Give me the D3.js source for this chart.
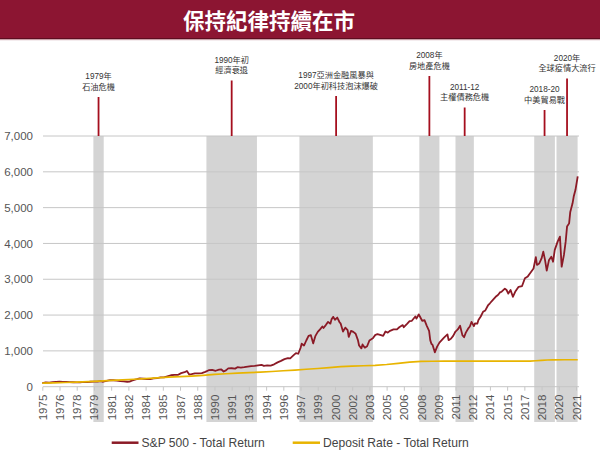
<!DOCTYPE html>
<html><head><meta charset="utf-8">
<script src="https://cdn.jsdelivr.net/npm/d3@7"></script>
<style>body{margin:0;background:#fff}svg{display:block}</style>
</head><body>
<svg id="c" width="600" height="453"></svg>
<script>
const title = "保持紀律持續在市";
const yTicks = [0,1000,2000,3000,4000,5000,6000,7000];
const xTickYears = [1975,1976.5,1978,1979.5,1981,1982.5,1984,1985.5,1987,1988.5,1990,1991.5,1993,1994.5,1996,1997.5,1999,2000.5,2002,2003.5,2005,2006.5,2008,2009.5,2011,2012.5,2014,2015.5,2017,2018.5,2020,2021.5];
const seriesNames = ["S&P 500 - Total Return","Deposit Rate - Total Return"];
// crisis bands [start, end]
const bands = [[1979.45,1980.35],[1989.3,1993.7],[1997.4,2003.8],[2007.85,2009.6],[2011.0,2012.6],[2017.86,2019.66],[2019.8,2021.64]];
const bandLabels = [["1979年","石油危機"],["1990年初","經濟衰退"],["1997亞洲金融風暴與","2000年初科技泡沫爆破"],["2008年","房地產危機"],["2011-12","主權債務危機"],["2018-20","中美貿易戰"],["2020年","全球疫情大流行"]];
// S&P 500 total return [year, value]
const sp500 = [[1975.0,100],[1975.3,118],[1975.6,112],[1975.9,125],[1976.2,135],[1976.5,138],[1976.8,136],[1977.1,132],[1977.4,128],[1977.7,124],[1978.0,118],[1978.3,122],[1978.6,135],[1978.9,125],[1979.2,138],[1979.5,142],[1979.8,140],[1980.1,155],[1980.3,138],[1980.6,165],[1980.9,185],[1981.2,180],[1981.5,172],[1981.8,155],[1982.1,148],[1982.4,138],[1982.6,140],[1982.8,168],[1983.0,190],[1983.3,215],[1983.5,230],[1983.8,222],[1984.1,215],[1984.4,210],[1984.7,230],[1985.0,240],[1985.3,258],[1985.6,262],[1985.9,290],[1986.2,320],[1986.5,330],[1986.8,328],[1987.1,380],[1987.4,405],[1987.6,440],[1987.8,340],[1988.0,350],[1988.3,372],[1988.6,370],[1988.9,380],[1989.2,415],[1989.5,460],[1989.8,468],[1990.1,445],[1990.4,475],[1990.6,480],[1990.8,425],[1991.0,455],[1991.2,510],[1991.5,515],[1991.8,505],[1992.0,545],[1992.3,535],[1992.6,545],[1992.9,560],[1993.2,575],[1993.5,580],[1993.8,595],[1994.1,612],[1994.3,580],[1994.6,595],[1994.9,590],[1995.2,625],[1995.5,680],[1995.8,720],[1996.1,770],[1996.4,800],[1996.6,790],[1996.9,880],[1997.1,940],[1997.3,920],[1997.5,1080],[1997.6,1200],[1997.8,1150],[1998.0,1290],[1998.2,1420],[1998.4,1440],[1998.6,1210],[1998.8,1420],[1999.0,1530],[1999.2,1600],[1999.4,1680],[1999.5,1640],[1999.7,1720],[1999.9,1810],[2000.1,1760],[2000.2,1880],[2000.35,1950],[2000.5,1870],[2000.7,1930],[2000.9,1800],[2001.0,1760],[2001.2,1540],[2001.4,1650],[2001.6,1580],[2001.7,1390],[2001.9,1560],[2002.1,1530],[2002.3,1480],[2002.5,1300],[2002.6,1150],[2002.8,1070],[2002.9,1180],[2003.1,1090],[2003.3,1130],[2003.5,1290],[2003.8,1350],[2004.0,1440],[2004.2,1470],[2004.5,1440],[2004.7,1420],[2004.9,1540],[2005.1,1510],[2005.3,1560],[2005.6,1600],[2005.9,1600],[2006.1,1660],[2006.4,1720],[2006.5,1660],[2006.8,1760],[2007.0,1830],[2007.2,1840],[2007.5,1960],[2007.6,1900],[2007.8,2020],[2007.9,1960],[2008.1,1840],[2008.3,1860],[2008.5,1700],[2008.7,1560],[2008.8,1300],[2008.9,1200],[2009.0,1170],[2009.2,960],[2009.4,1120],[2009.6,1230],[2009.8,1300],[2010.0,1370],[2010.3,1460],[2010.4,1300],[2010.6,1340],[2010.8,1420],[2011.0,1540],[2011.2,1600],[2011.4,1700],[2011.6,1440],[2011.75,1380],[2011.9,1510],[2012.1,1620],[2012.25,1680],[2012.4,1810],[2012.6,1690],[2012.7,1770],[2012.9,1760],[2013.0,1860],[2013.2,1960],[2013.4,2090],[2013.6,2130],[2013.85,2280],[2014.0,2330],[2014.3,2440],[2014.5,2510],[2014.7,2560],[2014.9,2640],[2015.0,2650],[2015.3,2740],[2015.45,2700],[2015.6,2600],[2015.8,2700],[2016.0,2510],[2016.2,2650],[2016.5,2790],[2016.8,2810],[2017.05,3030],[2017.3,3080],[2017.5,3170],[2017.8,3300],[2018.0,3620],[2018.1,3400],[2018.3,3440],[2018.5,3580],[2018.65,3770],[2018.8,3540],[2018.95,3240],[2019.15,3540],[2019.35,3630],[2019.5,3490],[2019.65,3820],[2019.9,4050],[2020.1,4190],[2020.25,3350],[2020.45,3680],[2020.6,4050],[2020.72,4470],[2020.9,4560],[2021.0,4880],[2021.2,5120],[2021.3,5310],[2021.45,5490],[2021.65,5870]];
// Deposit rate total return [year, value]
const deposit = [[1975,100],[1976,108],[1977,117],[1978,127],[1979,140],[1980,157],[1981,176],[1982,192],[1983,208],[1984,226],[1985,245],[1986,265],[1987,283],[1988,298],[1989,318],[1990,342],[1991,362],[1992,378],[1993,392],[1994,405],[1995,425],[1996,445],[1997,465],[1998,487],[1999,508],[2000,535],[2001,558],[2002,574],[2003,585],[2004,596],[2005,620],[2006,652],[2007,688],[2008,707],[2009,711],[2010,712],[2012,712],[2014,712],[2016,713],[2017.5,716],[2018,724],[2018.5,735],[2019,745],[2019.5,750],[2020.5,752],[2021.65,752]];

const colSP = "#8B1A26", colDep = "#E8B400", colBand = "#d4d4d4", colGrid = "#c6c6c6", colText = "#555";
const latin = "'Liberation Sans', Arial, 'Noto Sans CJK TC', sans-serif";
const svg = d3.select("#c");
const x = d3.scaleLinear().domain([1975, 2021.5]).range([42.3, 576]);
const y = d3.scaleLinear().domain([0, 7000]).range([386.7, 136]);

// title bar
svg.append("rect").attr("x",0).attr("y",0).attr("width",600).attr("height",39).attr("fill","#8C1532");
svg.append("rect").attr("x",0).attr("y",38).attr("width",600).attr("height",1).attr("fill","#5e0d20");
svg.append("rect").attr("x",0).attr("y",39).attr("width",600).attr("height",1.2).attr("fill","#c9a0a8");
svg.append("text").attr("x",269).attr("y",29).attr("text-anchor","middle")
  .attr("font-family","'Noto Sans CJK TC', sans-serif").attr("font-weight","bold")
  .attr("font-size",21.5).attr("fill","#fff").text(title);

// bands
svg.append("g").selectAll("rect").data(bands).join("rect")
  .attr("x", d => x(d[0])).attr("width", d => x(d[1]) - x(d[0]))
  .attr("y", y(7000)).attr("height", 422 - y(7000)).attr("fill", colBand);

// gridlines
svg.append("g").selectAll("line").data(yTicks).join("line")
  .attr("x1", 43).attr("x2", 579).attr("y1", d => y(d)).attr("y2", d => y(d))
  .attr("stroke", colGrid).attr("stroke-width", 1);

// y labels
const yAxis = d3.axisLeft(y).tickValues(yTicks).tickFormat(d3.format(",")).tickSize(0).tickPadding(0);
const gy = svg.append("g").attr("transform","translate(33,0)").call(yAxis);
gy.select(".domain").remove();
gy.selectAll("text").attr("font-family", latin).attr("font-size", 11.5).attr("fill", colText);

// x labels
const xAxis = d3.axisBottom(x).tickValues(xTickYears).tickFormat(d => String(Math.floor(d))).tickSize(4).tickPadding(0);
const gx = svg.append("g").attr("transform", `translate(0,${y(0)})`).call(xAxis);
gx.select(".domain").remove();
gx.selectAll(".tick line").attr("stroke", colGrid);
gx.selectAll("text").attr("font-family", latin).attr("font-size", 11.5).attr("fill", colText)
  .attr("text-anchor","end").attr("transform","rotate(-90)").attr("x",-8).attr("y",0).attr("dy","0.35em");

// lines
const line = d3.line().x(d => x(d[0])).y(d => y(d[1]));
svg.append("path").datum(sp500).attr("d", line).attr("fill","none").attr("stroke", colSP).attr("stroke-width",1.8).attr("stroke-linejoin","round");
svg.append("path").datum(deposit).attr("d", line).attr("fill","none").attr("stroke", colDep).attr("stroke-width",1.7);

// annotations
const annTop = [97, 80.5, 96, 76, 107.5, 110, 78.5];
bands.forEach((b, i) => {
  const cx = x((b[0] + b[1]) / 2);
  svg.append("line").attr("x1", cx).attr("x2", cx).attr("y1", annTop[i]).attr("y2", y(7000))
    .attr("stroke", "#A50F1E").attr("stroke-width", 1.8);
  const t = svg.append("text").attr("text-anchor","middle").attr("font-family", latin)
    .attr("font-size", 8.2).attr("fill", "#333");
  t.append("tspan").attr("x", cx).attr("y", annTop[i] - 18).text(bandLabels[i][0]);
  t.append("tspan").attr("x", cx).attr("y", annTop[i] - 7.5).text(bandLabels[i][1]);
});

// legend
const lg = [{n: seriesNames[0], c: colSP, x1: 111.7, x2: 138.5}, {n: seriesNames[1], c: colDep, x1: 292.7, x2: 320}];
lg.forEach(l => {
  svg.append("line").attr("x1", l.x1).attr("x2", l.x2).attr("y1", 442.7).attr("y2", 442.7).attr("stroke", l.c).attr("stroke-width", 2.5);
  svg.append("text").attr("x", l.x2 + 3).attr("y", 442.7).attr("dy","0.35em").attr("font-family", latin)
    .attr("font-size", 12.1).attr("fill", "#444").text(l.n);
});
</script>
</body></html>
